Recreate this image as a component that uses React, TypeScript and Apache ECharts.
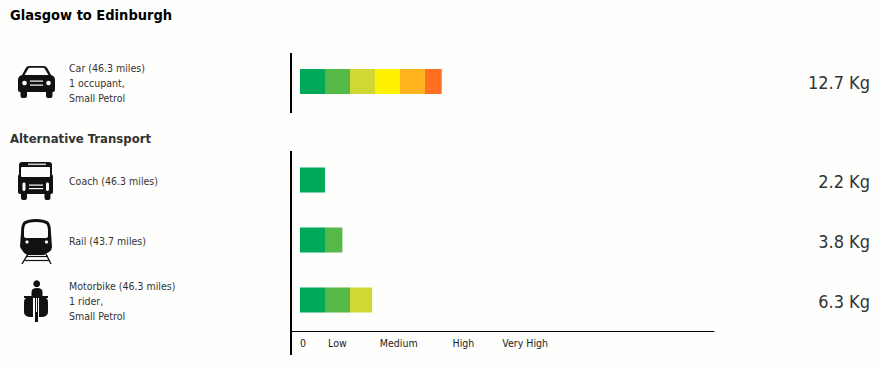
import React, { useEffect, useRef } from "react";
import * as echarts from "echarts";

const FONT = '"DejaVu Sans Condensed", "DejaVu Sans", sans-serif';

const topLabels = ["Car (46.3 miles)\n1 occupant,\nSmall Petrol"];
const topTotals = ["12.7 Kg"];
const bottomLabels = ["Coach (46.3 miles)", "Rail (43.7 miles)", "Motorbike (46.3 miles)\n1 rider,\nSmall Petrol"];
const bottomTotals = ["2.2 Kg", "3.8 Kg", "6.3 Kg"];

// Width of each coloured block in kg, one row per mode of transport.
const carSegments = [2.24, 2.24, 2.24, 2.24, 2.24, 1.5];
const coachSegments = [2.24];
const railSegments = [2.24, 1.56];
const motorbikeSegments = [2.24, 2.24, 1.98];

const bandColors = ["#00A859", "#54B948", "#CFD835", "#FFF200", "#FDB41E", "#FF7022"];

const scaleValues = [0.27, 3.35, 8.85, 14.65, 20.18];
const scaleLabels = ["0", "Low", "Medium", "High", "Very High"];

const AXIS_MIN = -0.806;
const AXIS_MAX = 37.1;

const INK = "#111";
const PAPER = "#FEFEFC";

echarts.graphic.registerShape(
  "carBody",
  echarts.graphic.extendPath(
    "M18 80 Q18 76 22 75 L25.5 68.5 Q26.5 66 29 66 L44 66 Q46.5 66 47.5 68.5 L51 75 Q55 76 55 80 L55 90 Q55 92 53 92 L52.5 92 L52.5 96 Q52.5 98 50.5 98 L48 98 Q46 98 46 96 L46 92 L27 92 L27 96 Q27 98 25 98 L22.5 98 Q20.5 98 20.5 96 L20.5 92 L20 92 Q18 92 18 90 Z",
    {}
  )
);
echarts.graphic.registerShape(
  "carWindow",
  echarts.graphic.extendPath("M24.5 75 L28.5 68.5 Q29 67.8 30 67.8 L43 67.8 Q44 67.8 44.5 68.5 L48.5 75 Z", {})
);
echarts.graphic.registerShape(
  "busBody",
  echarts.graphic.extendPath(
    "M19 165 Q19 162 22 162 L49 162 Q52 162 52 165 L52 174 L53 176 L53 192 Q53 194 51 194 L50.5 194 L50.5 198 Q50.5 200 48.5 200 L46.5 200 Q44.5 200 44.5 198 L44.5 194 L27 194 L27 198 Q27 200 25 200 L23 200 Q21 200 21 198 L21 194 L20 194 Q18 194 18 192 L18 176 L19 174 Z",
    {}
  )
);
echarts.graphic.registerShape(
  "trainBody",
  echarts.graphic.extendPath(
    "M21 233 Q21 224 24 221.5 Q28 219 36 219 Q44 219 48 221.5 Q51 224 51 233 L52 247 Q52 250 49 252 L44 255 L28 255 Q24 254 22 250 Q20 248 20 246 Z",
    {}
  )
);
echarts.graphic.registerShape(
  "trainWindow",
  echarts.graphic.extendPath(
    "M24 232 Q24 225.5 26 224 Q29 222 36 222 Q43 222 46 224 Q48 225.5 48 232 L48 236 Q48 238 45 238 L27 238 Q24 238 24 236 Z",
    {}
  )
);
echarts.graphic.registerShape(
  "riderTorso",
  echarts.graphic.extendPath("M31.5 297 L31.5 292 Q31.5 288 37 288 Q42.5 288 42.5 292 L42.5 297 Z", {})
);
echarts.graphic.registerShape(
  "fairingLeft",
  echarts.graphic.extendPath("M26 298 L33 298 L33 317 L29 317 Q24 316 24 312 L24 302 Q24 299 26 298 Z", {})
);
echarts.graphic.registerShape(
  "fairingRight",
  echarts.graphic.extendPath("M39 298 L46 298 Q48 299 48 302 L48 312 Q48 316 43 317 L39 317 Z", {})
);

const shape = (type: string, fill = INK) => ({ type, x: 0, y: 0, silent: true, style: { fill } });
const box = (x: number, y: number, width: number, height: number, fill: string, r = 0) => ({
  type: "rect",
  silent: true,
  shape: { x, y, width, height, r },
  style: { fill },
});
const dot = (cx: number, cy: number, r: number, fill: string) => ({
  type: "circle",
  silent: true,
  shape: { cx, cy, r },
  style: { fill },
});
const stroke = (x1: number, y1: number, x2: number, y2: number, lineWidth: number) => ({
  type: "line",
  silent: true,
  shape: { x1, y1, x2, y2 },
  style: { stroke: INK, lineWidth },
});

const icons = [
  // car
  shape("carBody"),
  shape("carWindow", PAPER),
  dot(24.5, 83, 2.3, PAPER),
  dot(48.5, 83, 2.3, PAPER),
  box(30, 80.5, 13, 1.2, PAPER),
  box(30, 84.5, 13, 1.2, PAPER),
  // coach
  shape("busBody"),
  box(28, 163.5, 18, 1.6, "#CCC"),
  box(21, 167, 29, 10, PAPER, 1),
  box(22.5, 182.5, 3, 8.5, PAPER, 1.4),
  box(46, 182.5, 3, 8.5, PAPER, 1.4),
  box(29, 184.5, 14, 1.2, PAPER),
  box(29, 188, 14, 1.2, PAPER),
  // rail
  stroke(28, 254, 22, 264, 1.4),
  stroke(46, 254, 51, 264, 1.4),
  stroke(26, 256.5, 48, 256.5, 1.2),
  stroke(25, 260.5, 49, 260.5, 1.2),
  shape("trainBody"),
  shape("trainWindow", PAPER),
  dot(27, 242, 1.6, PAPER),
  dot(46.5, 242, 1.6, PAPER),
  // motorbike
  dot(36.7, 283.7, 3.4, INK),
  shape("riderTorso"),
  box(24, 296, 24, 2, INK),
  shape("fairingLeft"),
  shape("fairingRight"),
  box(35, 298, 3, 24, INK),
  box(36, 298, 1, 14, PAPER),
];

const frameLines = [
  { type: "rect", silent: true, shape: { x: 290, y: 53, width: 2, height: 60 }, style: { fill: "#000" } },
  { type: "rect", silent: true, shape: { x: 290, y: 151, width: 2, height: 204 }, style: { fill: "#000" } },
];

const stacked = (gridIdx: number, yIdx: number, rows: number[][]) =>
  bandColors.map((color, band) => ({
    type: "bar",
    xAxisIndex: gridIdx,
    yAxisIndex: yIdx,
    stack: `grid${gridIdx}`,
    barWidth: 25,
    itemStyle: { color },
    data: rows.map((row) => row[band] ?? 0),
    silent: true,
  }));

const rowLabel = {
  fontFamily: FONT,
  fontSize: 10.5,
  color: "#333",
  lineHeight: 15,
  align: "left" as const,
  margin: 222,
};
const totalLabel = {
  fontFamily: FONT,
  fontSize: 18,
  color: "#333",
  align: "right" as const,
  margin: 156,
};
const hiddenAxis = { axisLine: { show: false, onZero: false }, axisTick: { show: false } };
const hiddenX = (gridIndex: number) => ({
  type: "value",
  gridIndex,
  min: AXIS_MIN,
  max: AXIS_MAX,
  show: false,
  splitLine: { show: false },
});

export default function App() {
  const ref = useRef<HTMLDivElement>(null);

  useEffect(() => {
    document.body.style.margin = "0";
    const chart = echarts.init(ref.current!, null, { renderer: "svg" });
    chart.setOption({
      animation: false,
      backgroundColor: PAPER,
      title: [
        {
          text: "Glasgow to Edinburgh",
          left: 10,
          top: 7,
          padding: 0,
          textStyle: { fontFamily: FONT, fontSize: 14.5, fontWeight: "bold", color: "#000" },
        },
        {
          text: "Alternative Transport",
          left: 10,
          top: 132,
          padding: 0,
          textStyle: { fontFamily: FONT, fontSize: 13, fontWeight: "bold", color: "#333" },
        },
      ],
      grid: [
        // bars
        { left: 291, width: 423, top: 53, height: 57 },
        { left: 291, width: 423, top: 150, height: 180 },
        // row captions and totals sit one pixel below the bars' centres
        { left: 291, width: 423, top: 54, height: 57 },
        { left: 291, width: 423, top: 151, height: 180 },
      ],
      xAxis: [
        hiddenX(0),
        {
          type: "value",
          gridIndex: 1,
          min: AXIS_MIN,
          max: AXIS_MAX,
          position: "bottom",
          offset: 1,
          splitLine: { show: false },
          axisTick: { show: false },
          axisLine: { show: true, onZero: false, lineStyle: { color: "#000", width: 1 } },
          axisLabel: {
            customValues: scaleValues,
            formatter: (v: number) => scaleLabels[scaleValues.indexOf(v)] ?? "",
            fontFamily: FONT,
            fontSize: 10.5,
            color: "#222",
            margin: 6,
            showMinLabel: true,
          },
        },
        hiddenX(2),
        hiddenX(3),
      ],
      yAxis: [
        { type: "category", gridIndex: 0, data: topLabels, show: false },
        { type: "category", gridIndex: 1, inverse: true, data: bottomLabels, show: false },
        { type: "category", gridIndex: 2, position: "left", data: topLabels, ...hiddenAxis, axisLabel: rowLabel },
        { type: "category", gridIndex: 2, position: "right", data: topTotals, ...hiddenAxis, axisLabel: totalLabel },
        { type: "category", gridIndex: 3, position: "left", inverse: true, data: bottomLabels, ...hiddenAxis, axisLabel: rowLabel },
        { type: "category", gridIndex: 3, position: "right", inverse: true, data: bottomTotals, ...hiddenAxis, axisLabel: totalLabel },
      ],
      series: [
        ...stacked(0, 0, [carSegments]),
        ...stacked(1, 1, [coachSegments, railSegments, motorbikeSegments]),
      ],
      graphic: [...frameLines, ...icons],
    });
    return () => chart.dispose();
  }, []);

  return <div ref={ref} style={{ width: 881, height: 367 }} />;
}
